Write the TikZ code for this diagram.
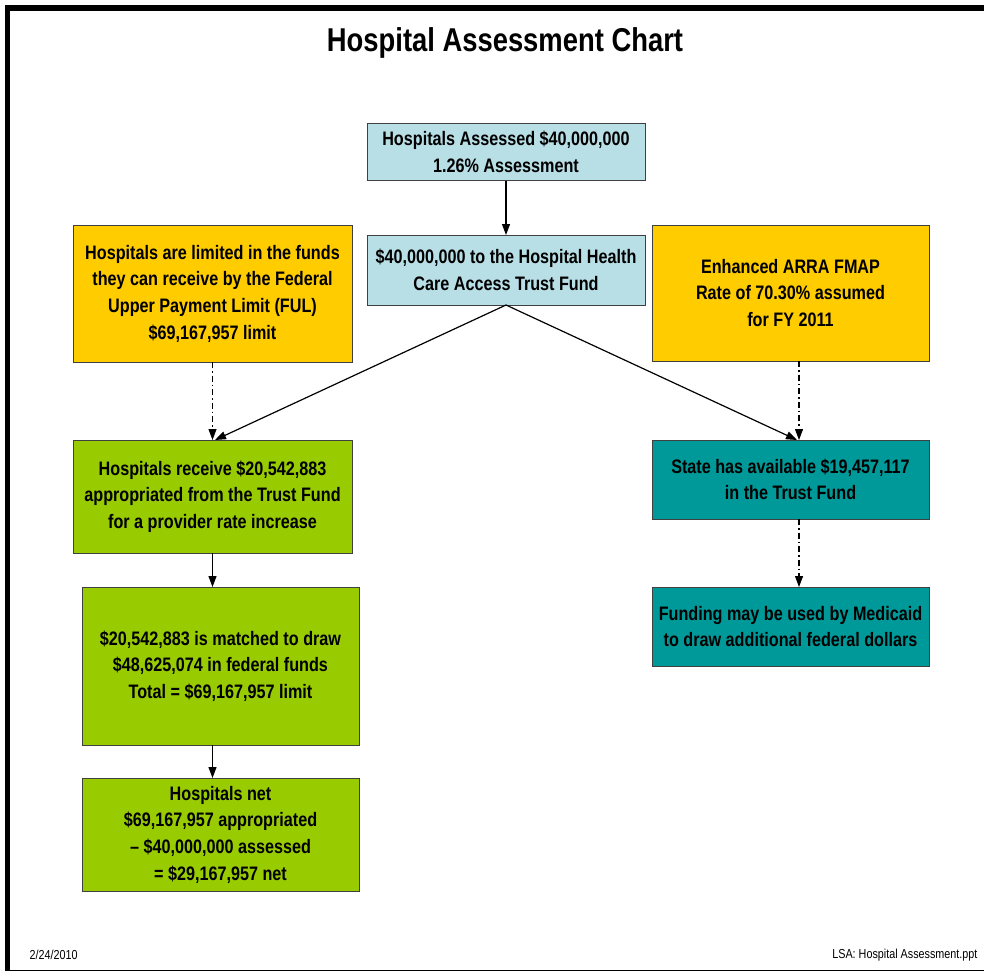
\documentclass[tikz,border=0pt]{standalone}
\usepackage{fontspec}
\setmainfont{Liberation Sans}[FakeStretch=0.83]
\usetikzlibrary{arrows.meta}
\definecolor{lblue}{HTML}{B8DEE6}
\definecolor{ygold}{HTML}{FFCC00}
\definecolor{lgreen}{HTML}{99CC00}
\definecolor{dteal}{HTML}{009999}
\tikzset{
  box/.style={draw=black!75, line width=0.8pt, inner sep=0pt, outer sep=0pt,
    align=center, font=\bfseries\fontsize{19.5}{26.7}\selectfont},
  arr/.style={line width=1.2pt, -{Triangle[width=8pt,length=11pt]}},
  dasharr/.style={line width=1.1pt, dash pattern=on 6pt off 3pt on 1.5pt off 3pt,
    -{Triangle[width=8pt,length=11pt]}},
}
\begin{document}
\begin{tikzpicture}[x=1pt,y=-1pt]
\useasboundingbox (0,0) rectangle (984,974);
% frame
\fill[black] (5,5) rectangle (984,11);
\fill[black] (5,5) rectangle (10,971);
\draw[black, line width=1pt] (5,970) -- (984,970);
% title
\node[font=\bfseries\fontsize{33}{38}\selectfont] (title) at (505,43) {Hospital Assessment Chart};
% boxes
\node[box, fill=lblue, minimum width=278pt, minimum height=57pt] (b1) at (506,152) {Hospitals Assessed \$40,000,000\\1.26\% Assessment};
\node[box, fill=lblue, minimum width=278pt, minimum height=70pt] (b2) at (506,270) {\$40,000,000 to the Hospital Health\\Care Access Trust Fund};
\node[box, fill=ygold, minimum width=279pt, minimum height=137pt] (yl) at (212.5,293.5) {Hospitals are limited in the funds\\they can receive by the Federal\\Upper Payment Limit (FUL)\\\$69,167,957 limit};
\node[box, fill=ygold, minimum width=277pt, minimum height=136pt] (yr) at (790.5,293) {Enhanced ARRA FMAP\\Rate of 70.30\% assumed\\for FY 2011};
\node[box, fill=lgreen, minimum width=279pt, minimum height=113pt] (g1) at (212.5,496.5) {Hospitals receive \$20,542,883\\appropriated from the Trust Fund\\for a provider rate increase};
\node[box, fill=dteal, minimum width=277pt, minimum height=79pt] (t1) at (790.5,479.5) {State has available \$19,457,117\\in the Trust Fund};
\node[box, fill=lgreen, minimum width=277pt, minimum height=158pt] (g2) at (220.5,666) {\$20,542,883 is matched to draw\\\$48,625,074 in federal funds\\Total = \$69,167,957 limit};
\node[box, fill=dteal, minimum width=277pt, minimum height=79pt] (t2) at (790.5,626.5) {Funding may be used by Medicaid\\to draw additional federal dollars};
\node[box, fill=lgreen, minimum width=277pt, minimum height=113pt] (g3) at (220.5,834.5) {Hospitals net\\\$69,167,957 appropriated\\– \$40,000,000 assessed\\= \$29,167,957 net};
% footer
\node[font=\fontsize{13}{15}\selectfont, anchor=west] (date) at (26,955) {2/24/2010};
\node[font=\fontsize{13}{15}\selectfont, anchor=east] (file) at (981,955) {LSA: Hospital Assessment.ppt};
% column coordinates
\coordinate (lcol) at (212.5,0);
\coordinate (rcol) at (799,0);
\coordinate (ldiag) at (215,0);
\coordinate (rdiag) at (797,0);
% connectors
\draw[arr] (b1.south) -- (b2.north);
\draw[arr] (b2.south) -- (ldiag |- g1.north);
\draw[arr] (b2.south) -- (rdiag |- t1.north);
\draw[dasharr] (lcol |- yl.south) -- (lcol |- g1.north);
\draw[dasharr] (rcol |- yr.south) -- (rcol |- t1.north);
\draw[dasharr] (rcol |- t1.south) -- (rcol |- t2.north);
\draw[arr] (lcol |- g1.south) -- (lcol |- g2.north);
\draw[arr] (lcol |- g2.south) -- (lcol |- g3.north);
\end{tikzpicture}
\end{document}
